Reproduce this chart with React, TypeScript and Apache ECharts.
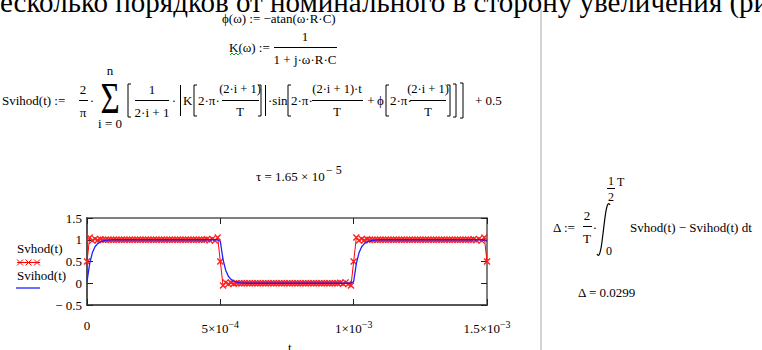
import React, { useEffect, useRef } from 'react';
import * as echarts from 'echarts';

// Sampling step of both traces (s)
const tStep = 1e-5;

// Svhod(t) — input square wave, one sample per tStep from t = 0
const svhod = [
  0.5, 1.05, 0.98, 1.02, 0.99, 1.01, 1, 1, 1, 1,
  1, 1, 1, 1, 1, 1, 1, 1, 1, 1,
  1, 1, 1, 1, 1, 1, 1, 1, 1, 1,
  1, 1, 1, 1, 1, 1, 1, 1, 1, 1,
  1, 1, 1, 1, 1, 1.01, 0.99, 1.02, 0.98, 1.05,
  0.5, -0.05, 0.02, -0.02, 0.01, -0.01, 0, 0, 0, 0,
  0, 0, 0, 0, 0, 0, 0, 0, 0, 0,
  0, 0, 0, 0, 0, 0, 0, 0, 0, 0,
  0, 0, 0, 0, 0, 0, 0, 0, 0, 0,
  0, 0, 0, 0, 0, 0.01, -0.01, 0.02, -0.02, -0.05,
  0.5, 1.05, 0.98, 1.02, 0.99, 1.01, 1, 1, 1, 1,
  1, 1, 1, 1, 1, 1, 1, 1, 1, 1,
  1, 1, 1, 1, 1, 1, 1, 1, 1, 1,
  1, 1, 1, 1, 1, 1, 1, 1, 1, 1,
  1, 1, 1, 1, 1, 1.01, 0.99, 1.02, 0.98, 1.05,
  0.5,
];

// Svihod(t) — RC output, same sampling
const svihod = [
  0.04, 0.45, 0.7, 0.84, 0.91, 0.95, 0.97, 0.985, 0.99, 0.995,
  1, 1, 1, 1, 1, 1, 1, 1, 1, 1,
  1, 1, 1, 1, 1, 1, 1, 1, 1, 1,
  1, 1, 1, 1, 1, 1, 1, 1, 1, 1,
  1, 1, 1, 1, 1, 1, 1, 1, 1, 1,
  0.96, 0.55, 0.3, 0.16, 0.09, 0.05, 0.03, 0.015, 0.01, 0.005,
  0, 0, 0, 0, 0, 0, 0, 0, 0, 0,
  0, 0, 0, 0, 0, 0, 0, 0, 0, 0,
  0, 0, 0, 0, 0, 0, 0, 0, 0, 0,
  0, 0, 0, 0, 0, 0, 0, 0, 0, 0,
  0.04, 0.45, 0.7, 0.84, 0.91, 0.95, 0.97, 0.985, 0.99, 0.995,
  1, 1, 1, 1, 1, 1, 1, 1, 1, 1,
  1, 1, 1, 1, 1, 1, 1, 1, 1, 1,
  1, 1, 1, 1, 1, 1, 1, 1, 1, 1,
  1, 1, 1, 1, 1, 1, 1, 1, 1, 1,
  0.96,
];

const xTickLabels = ['0', '{b|5×10}{e|−4}', '{b|1×10}{e|−3}', '{b|1.5×10}{e|−3}'];
const yTickLabels = ['− 0.5', '0', '0.5', '1', '1.5'];
const seriesNames = ['Svhod(t)', 'Svihod(t)'];

const FONT = "'Liberation Serif', 'Times New Roman', 'DejaVu Serif', serif";
const CROSS = 'path://M0,1.4L1.4,0L10,8.6L8.6,10Z M8.6,0L10,1.4L1.4,10L0,8.6Z';

type Opt = { size?: number; align?: string; va?: string; color?: string; scaleX?: number };

function txt(text: string, x: number, y: number, o: Opt = {}) {
  const size = o.size ?? 13;
  return {
    type: 'text',
    x,
    y,
    scaleX: o.scaleX ?? 1,
    silent: true,
    style: {
      text,
      fill: o.color ?? '#000',
      font: `${size}px ${FONT}`,
      fontFamily: FONT,
      fontSize: size,
      align: o.align ?? 'left',
      verticalAlign: o.va ?? 'middle',
    },
  };
}

function hline(x1: number, x2: number, y: number, w = 1, color = '#000') {
  return { type: 'line', silent: true, shape: { x1, y1: y, x2, y2: y }, style: { stroke: color, lineWidth: w } };
}

function vline(x: number, y1: number, y2: number, w = 1, color = '#000') {
  return { type: 'line', silent: true, shape: { x1: x, y1, x2: x, y2 }, style: { stroke: color, lineWidth: w } };
}

// square bracket; dir = 1 opens right "[", -1 opens left "]"
function bracket(x: number, y1: number, y2: number, dir: number) {
  return {
    type: 'polyline',
    silent: true,
    shape: { points: [[x + 3 * dir, y1], [x, y1], [x, y2], [x + 3 * dir, y2]] },
    style: { stroke: '#000', lineWidth: 1, fill: null },
  };
}

function frac(num: string, den: string, cx: number, x1: number, x2: number, y: number, size = 13) {
  return [
    txt(num, cx, y - 11, { align: 'center', size }),
    hline(x1, x2, y + 0.5),
    txt(den, cx, y + 12, { align: 'center', size }),
  ];
}

function cross(cx: number, cy: number, r: number, color: string) {
  return [
    { type: 'line', silent: true, shape: { x1: cx - r, y1: cy - r, x2: cx + r, y2: cy + r }, style: { stroke: color, lineWidth: 1 } },
    { type: 'line', silent: true, shape: { x1: cx - r, y1: cy + r, x2: cx + r, y2: cy - r }, style: { stroke: color, lineWidth: 1 } },
  ];
}

function buildGraphics() {
  const Y = 100; // axis line of the Svihod definition
  const els: any[] = [];

  // running paragraph text above the worksheet
  els.push(txt('несколько порядков от номинального в сторону увеличения (рис', -15.5, 16, { size: 29, va: 'bottom' }));

  // worksheet page boundary
  els.push(vline(541, 10, 350, 1.5, '#c4c4c4'));

  // phi(w)
  els.push(txt('ϕ(ω) := −atan(ω·R·C)', 222, 18));

  // K(w)
  els.push(txt('K(ω) :=', 229, 47));
  els.push(...frac('1', '1 + j·ω·R·C', 305, 274, 337, 47));
  els.push({
    type: 'polyline',
    silent: true,
    shape: { points: [[230, 55], [232, 53], [234, 55], [236, 53], [238, 55], [240, 53]] },
    style: { stroke: '#1fa01f', lineWidth: 1, fill: null },
  });

  // Svihod(t)
  els.push(txt('Svihod(t) :=', 2, Y));
  els.push(...frac('2', 'π', 83, 79, 88, Y));
  els.push(txt('·', 92, Y, { align: 'center' }));
  els.push(txt('Σ', 110, Y - 2, { size: 44, align: 'center', scaleX: 0.75 }));
  els.push(txt('n', 110, Y - 30, { align: 'center' }));
  els.push(txt('i = 0', 110, Y + 23, { align: 'center' }));
  els.push(bracket(128, Y - 16, Y + 17, 1));
  els.push(...frac('1', '2·i + 1', 152, 135, 169, Y));
  els.push(txt('·', 174, Y, { align: 'center' }));
  els.push(vline(180.5, Y - 15, Y + 16));
  els.push(txt('K', 183, Y));
  els.push(bracket(194, Y - 15, Y + 16, 1));
  els.push(txt('2·π·', 198, Y));
  els.push(...frac('(2·i + 1)', 'T', 240, 222, 259, Y, 12.5));
  els.push(bracket(261, Y - 15, Y + 16, -1));
  els.push(vline(265.5, Y - 15, Y + 16));
  els.push(txt('·sin', 268, Y));
  els.push(bracket(288, Y - 15, Y + 16, 1));
  els.push(txt('2·π·', 291, Y));
  els.push(...frac('(2·i + 1)·t', 'T', 337, 312, 363, Y, 12.5));
  els.push(txt('+', 371, Y, { align: 'center' }));
  els.push(txt('ϕ', 377, Y));
  els.push(bracket(386, Y - 15, Y + 16, 1));
  els.push(txt('2·π·', 390, Y));
  els.push(...frac('(2·i + 1)', 'T', 428, 410, 446, Y, 12.5));
  els.push(bracket(450, Y - 15, Y + 16, -1));
  els.push(bracket(456, Y - 16, Y + 17, -1));
  els.push(bracket(463, Y - 17, Y + 18, -1));
  els.push(txt('+ 0.5', 475, Y));

  // tau
  els.push(txt('τ = 1.65 × 10', 256, 176));
  els.push(txt('− 5', 326, 170, { size: 12 }));

  // trace legend beside the plot
  els.push(txt(seriesNames[0], 17, 248));
  els.push(hline(17, 40, 262.5, 1, '#ff0000'));
  els.push(...cross(20, 262.5, 3, '#ff0000'));
  els.push(...cross(28.5, 262.5, 3, '#ff0000'));
  els.push(...cross(37, 262.5, 3, '#ff0000'));
  els.push(txt(seriesNames[1], 17, 275));
  els.push(hline(16, 40, 288, 1.3, '#1f1fff'));

  // x axis name
  els.push(txt('t', 288, 341, { va: 'top' }));

  // Delta definition
  const D = 227;
  els.push(txt('Δ :=', 553, D));
  els.push(...frac('2', 'T', 587, 583, 592, D - 1));
  els.push(txt('·', 595, D, { align: 'center' }));
  els.push({
    type: 'bezierCurve',
    silent: true,
    shape: { x1: 610, y1: D - 22, x2: 597, y2: D + 27, cpx1: 604, cpy1: D - 34, cpx2: 603, cpy2: D + 39 },
    style: { stroke: '#000', lineWidth: 1.2, fill: null },
  });
  els.push(txt('1', 611, D - 46, { align: 'center', size: 12 }));
  els.push(hline(607, 615, D - 38.5));
  els.push(txt('2', 611, D - 30, { align: 'center', size: 12 }));
  els.push(txt('T', 617, D - 45, { size: 12 }));
  els.push(txt('0', 609, D + 24, { align: 'center', size: 12 }));
  els.push(txt('Svhod(t) − Svihod(t) dt', 630, D));
  els.push(txt('Δ = 0.0299', 578, 292));

  return els;
}

export default function App() {
  const ref = useRef<HTMLDivElement>(null);

  useEffect(() => {
    if (!ref.current) return;
    const chart = echarts.init(ref.current, null, { renderer: 'svg' });

    const axisLineStyle = { color: '#555', width: 1.5 };
    const tickStyle = { show: true, inside: true, length: 6, lineStyle: { color: '#222', width: 1 } };

    chart.setOption({
      animation: false,
      backgroundColor: '#fff',
      textStyle: { fontFamily: FONT },
      grid: { left: 87, top: 218, width: 400, height: 87, containLabel: false },
      xAxis: [
        {
          type: 'value',
          min: 0,
          max: 0.0015,
          interval: 0.0005,
          position: 'bottom',
          axisLine: { show: true, onZero: false, lineStyle: { color: '#555', width: 2 } },
          axisTick: tickStyle,
          splitLine: { show: false },
          axisLabel: {
            margin: 14,
            color: '#000',
            fontFamily: FONT,
            fontSize: 13,
            formatter: (v: number) => xTickLabels[Math.round(v / 0.0005)] ?? '',
            rich: {
              b: { fontFamily: FONT, fontSize: 13, color: '#000' },
              e: { fontFamily: FONT, fontSize: 10, color: '#000', padding: [0, 0, 9, 0] },
            },
          },
        },
        {
          type: 'value',
          min: 0,
          max: 0.0015,
          interval: 0.0005,
          position: 'top',
          axisLine: { show: true, onZero: false, lineStyle: axisLineStyle },
          axisTick: tickStyle,
          axisLabel: { show: false },
          splitLine: { show: false },
        },
      ],
      yAxis: [
        {
          type: 'value',
          min: -0.5,
          max: 1.5,
          interval: 0.5,
          position: 'left',
          axisLine: { show: true, onZero: false, lineStyle: { color: '#555', width: 2 } },
          axisTick: tickStyle,
          splitLine: { show: false },
          axisLabel: {
            margin: 5,
            color: '#000',
            fontFamily: FONT,
            fontSize: 13,
            formatter: (v: number) => yTickLabels[Math.round((v + 0.5) / 0.5)] ?? '',
          },
        },
        {
          type: 'value',
          min: -0.5,
          max: 1.5,
          interval: 0.5,
          position: 'right',
          axisLine: { show: true, onZero: false, lineStyle: axisLineStyle },
          axisTick: tickStyle,
          axisLabel: { show: false },
          splitLine: { show: false },
        },
      ],
      series: [
        {
          name: seriesNames[0],
          type: 'line',
          data: svhod.map((v, i) => [i * tStep, v]),
          symbol: CROSS,
          symbolSize: 7,
          showSymbol: true,
          showAllSymbol: true,
          itemStyle: { color: '#ff2020' },
          lineStyle: { color: '#ff0000', width: 1 },
          z: 2,
        },
        {
          name: seriesNames[1],
          type: 'line',
          data: svihod.map((v, i) => [i * tStep, v]),
          symbol: 'none',
          lineStyle: { color: '#1f1fff', width: 1.3 },
          z: 3,
        },
      ],
      graphic: { elements: buildGraphics() },
    });

    return () => chart.dispose();
  }, []);

  return (
    <div
      ref={ref}
      style={{ position: 'absolute', left: 0, top: 0, width: 762, height: 350, background: '#fff' }}
    />
  );
}
